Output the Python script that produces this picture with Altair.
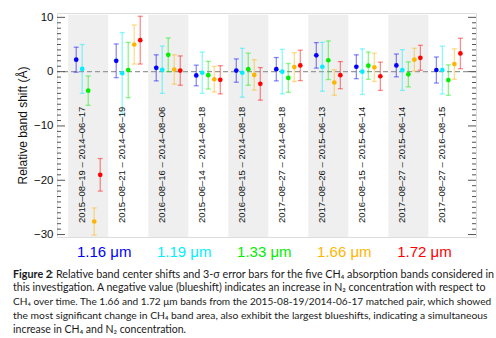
import altair as alt
import pandas as pd

# ---------------- data ----------------
pairs = [
    "2015–08–19 – 2014–06–17",
    "2015–08–21 – 2014–06–19",
    "2016–08–16 – 2014–08–06",
    "2015–06–14 – 2014–08–18",
    "2016–08–15 – 2014–08–18",
    "2017–08–27 – 2014–08–18",
    "2017–08–26 – 2015–06–13",
    "2016–08–15 – 2015–06–14",
    "2017–08–27 – 2015–06–14",
    "2017–08–27 – 2016–08–15",
]
bands = ["1.16 μm", "1.19 μm", "1.33 μm", "1.66 μm", "1.72 μm"]
colors = ["#0000FF", "#00F0FF", "#00EE00", "#FFB400", "#FF0000"]

shift_116 = [2.2, 2.0, 0.7, -0.7, 0.2, 0.45, 3.0, 0.9, 1.15, 0.3]
err_116 = [2.3, 3.1, 2.4, 1.9, 2.15, 2.15, 2.35, 2.2, 2.1, 2.4]
shift_119 = [0.5, -0.3, 0.35, -0.2, -0.2, 0.0, 0.9, 0.0, 0.3, 0.3]
err_119 = [4.5, 7.5, 4.35, 3.8, 4.5, 4.1, 4.5, 4.2, 3.75, 4.4]
shift_133 = [-3.5, 0.3, 3.1, -0.65, 0.45, -1.15, 2.1, 1.1, -0.5, -1.55]
err_133 = [2.7, 5.1, 3.1, 2.55, 2.95, 2.65, 3.55, 2.5, 2.3, 2.8]
shift_166 = [-27.6, 5.0, 0.4, -1.4, -0.6, 0.85, -2.0, 0.8, 2.2, 1.4]
err_166 = [2.5, 3.6, 2.7, 2.35, 2.8, 2.65, 2.35, 2.6, 2.1, 2.8]
shift_172 = [-19.0, 5.8, 0.2, -1.5, -2.25, 1.15, -0.65, -0.85, 2.55, 3.35]
err_172 = [3.0, 4.4, 2.7, 2.6, 3.0, 2.8, 2.5, 2.6, 2.3, 2.8]

major_ticks = [-30, -20, -10, 0, 10]
minor_ticks = [v for v in range(-30, 11) if v not in major_ticks]

caption_bold = "Figure 2"
caption_lines = [
    ": Relative band center shifts and 3-σ error bars for the five CH₄ absorption bands considered in",
    "this investigation. A negative value (blueshift) indicates an increase in N₂ concentration with respect to",
    "CH₄ over time. The 1.66 and 1.72 μm bands from the 2015-08-19/2014-06-17 matched pair, which showed",
    "the most significant change in CH₄ band area, also exhibit the largest blueshifts, indicating a simultaneous",
    "increase in CH₄ and N₂ concentration.",
]
caption_sizes = [10.75, 10.6, 10.1, 10.33, 10.5]

# ---------------- tables ----------------
shifts = [shift_116, shift_119, shift_133, shift_166, shift_172]
errs = [err_116, err_119, err_133, err_166, err_172]
rows = []
for b, band in enumerate(bands):
    for g in range(len(pairs)):
        v, e = shifts[b][g], errs[b][g]
        rows.append({"x": g + (b - 2) * 0.15, "band": band, "v": v,
                     "lo": v - e, "hi": v + e})
df = pd.DataFrame(rows)

shade = pd.DataFrame({"g": [0, 2, 4, 6, 8]})
shade["x"] = shade["g"] - 0.5
shade["x2"] = shade["g"] + 0.5
shade["y"] = 10.5
shade["y2"] = -30.45

labels_df = pd.DataFrame({"x": [g - 0.16 for g in range(len(pairs))], "t": pairs})
legend_df = pd.DataFrame({"x": [0.4 + 2 * i for i in range(5)], "band": bands})
major_df = pd.DataFrame({"v": major_ticks})
minor_df = pd.DataFrame({"v": minor_ticks})
zero_df = pd.DataFrame({"v": [0]})

W, H = 419, 224
xs = alt.Scale(domain=[-0.78, 9.69], nice=False, zero=False)
ys = alt.Scale(domain=[-30.45, 10.8], nice=False, zero=False)
cs = alt.Scale(domain=bands, range=colors)
FONT = "Liberation Sans"

shading = alt.Chart(shade).mark_rect(color="#EFEFEF").encode(
    x=alt.X("x:Q", scale=xs, axis=None), x2="x2:Q",
    y=alt.Y("y:Q", scale=ys,
            axis=alt.Axis(values=major_ticks, ticks=False, domain=False, grid=False,
                          labelFontSize=11.5, labelPadding=4, labelColor="#111",
                          labelFont=FONT, title="Relative band shift (Å)",
                          titleFontSize=12, titleFontWeight="normal", titleFont=FONT,
                          titleColor="#111", titleX=-35, titleY=H / 2,
                          titleAngle=270, titleAlign="center",
                          titleBaseline="middle")),
    y2="y2:Q",
)

zero = alt.Chart(zero_df).mark_rule(color="#999999", strokeDash=[5, 3],
                                    strokeWidth=1.2).encode(y=alt.Y("v:Q", scale=ys))

bars = alt.Chart(df).mark_rule(strokeWidth=1.3, opacity=0.45).encode(
    x=alt.X("x:Q", scale=xs), y=alt.Y("lo:Q", scale=ys), y2="hi:Q",
    color=alt.Color("band:N", scale=cs, legend=None))
caps_hi = alt.Chart(df).mark_tick(orient="horizontal", size=5, thickness=1.3,
                                  opacity=0.45).encode(
    x=alt.X("x:Q", scale=xs), y=alt.Y("hi:Q", scale=ys),
    color=alt.Color("band:N", scale=cs, legend=None))
caps_lo = alt.Chart(df).mark_tick(orient="horizontal", size=5, thickness=1.3,
                                  opacity=0.45).encode(
    x=alt.X("x:Q", scale=xs), y=alt.Y("lo:Q", scale=ys),
    color=alt.Color("band:N", scale=cs, legend=None))
points = alt.Chart(df).mark_circle(size=22, opacity=1).encode(
    x=alt.X("x:Q", scale=xs), y=alt.Y("v:Q", scale=ys),
    color=alt.Color("band:N", scale=cs, legend=None))

tick_color = "#555555"
lmaj = alt.Chart(major_df).mark_rule(color=tick_color).encode(
    y=alt.Y("v:Q", scale=ys), x=alt.value(0), x2=alt.value(8))
lmin = alt.Chart(minor_df).mark_rule(color=tick_color).encode(
    y=alt.Y("v:Q", scale=ys), x=alt.value(0), x2=alt.value(4))
rmaj = alt.Chart(major_df).mark_rule(color=tick_color).encode(
    y=alt.Y("v:Q", scale=ys), x=alt.value(W), x2=alt.value(W - 8))
rmin = alt.Chart(minor_df).mark_rule(color=tick_color).encode(
    y=alt.Y("v:Q", scale=ys), x=alt.value(W), x2=alt.value(W - 4))

pair_text = alt.Chart(labels_df).mark_text(
    angle=270, align="left", baseline="middle", fontSize=9.5, font=FONT,
    color="#111").encode(x=alt.X("x:Q", scale=xs), y=alt.value(210), text="t:N")

legend_text = alt.Chart(legend_df).mark_text(
    fontSize=15, font=FONT, baseline="middle", align="center").encode(
    x=alt.X("x:Q", scale=xs), y=alt.value(239), text="band:N",
    color=alt.Color("band:N", scale=cs, legend=None))

cap_layers = []
CAPFONT = "Lato"
Y0 = 264.5
cap_layers.append(
    alt.Chart(zero_df).mark_text(text=caption_bold, fontWeight="bold", font=CAPFONT,
                                 fontSize=caption_sizes[0], align="left",
                                 baseline="alphabetic", color="#1a1a1a")
    .encode(x=alt.value(-44), y=alt.value(Y0)))
for i, line in enumerate(caption_lines):
    cap_layers.append(
        alt.Chart(zero_df).mark_text(text=line, font=CAPFONT, fontSize=caption_sizes[i],
                                     align="left", baseline="alphabetic",
                                     color="#1a1a1a")
        .encode(x=alt.value(-6.5 if i == 0 else -44), y=alt.value(Y0 + 13.75 * i)))

chart = alt.layer(
    shading, zero, bars, caps_hi, caps_lo, points, lmaj, lmin, rmaj, rmin,
    pair_text, legend_text, *cap_layers
).properties(
    width=W, height=H,
    autosize=alt.AutoSizeParams(type="none"),
    padding={"left": 57, "top": 13, "right": 20, "bottom": 101},
).configure_view(stroke="#777777", strokeWidth=1).configure(background="white")

chart.save("out.html", embed_options={"renderer": "svg", "actions": False})
